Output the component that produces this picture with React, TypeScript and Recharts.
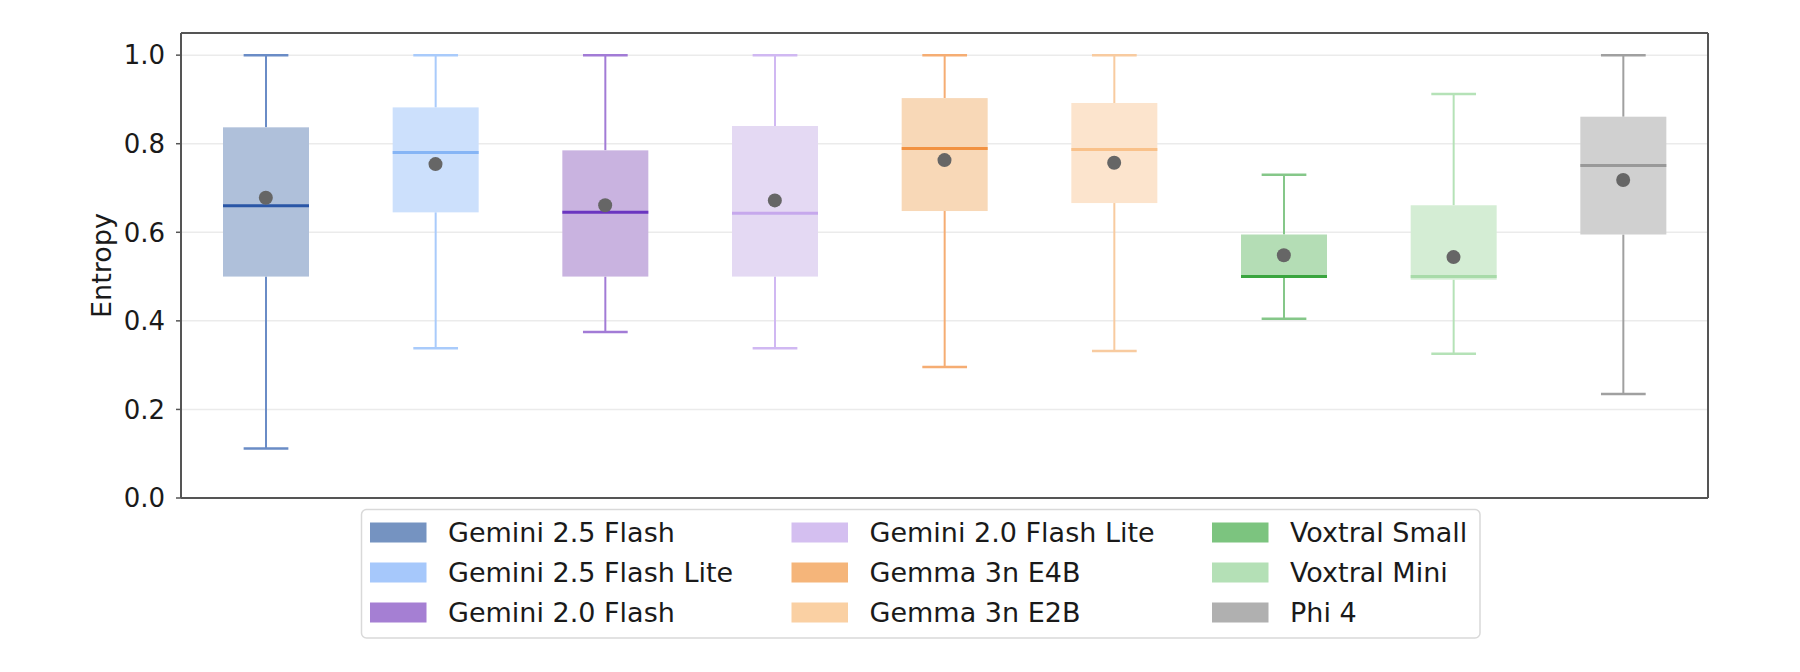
import React from 'react';
import { ComposedChart, Bar, Scatter, XAxis, YAxis, CartesianGrid } from 'recharts';

// ---- data ----
const models = [
  'Gemini 2.5 Flash',
  'Gemini 2.5 Flash Lite',
  'Gemini 2.0 Flash',
  'Gemini 2.0 Flash Lite',
  'Gemma 3n E4B',
  'Gemma 3n E2B',
  'Voxtral Small',
  'Voxtral Mini',
  'Phi 4',
];
const whiskerLow = [0.112, 0.338, 0.375, 0.338, 0.296, 0.332, 0.405, 0.326, 0.235];
const q1 = [0.5, 0.645, 0.5, 0.5, 0.648, 0.666, 0.499, 0.493, 0.595];
const median = [0.66, 0.78, 0.645, 0.643, 0.789, 0.787, 0.5, 0.5, 0.751];
const q3 = [0.837, 0.882, 0.785, 0.84, 0.903, 0.892, 0.595, 0.661, 0.861];
const whiskerHigh = [1.0, 1.0, 1.0, 1.0, 1.0, 1.0, 0.73, 0.912, 1.0];
const mean = [0.678, 0.754, 0.661, 0.672, 0.763, 0.757, 0.548, 0.544, 0.718];
const yTicks = [0, 0.2, 0.4, 0.6, 0.8, 1.0];

// ---- styles ----
const legendColors = ['#7593c1', '#a6c8fb', '#a57fd3', '#d4bff0', '#f5b57a', '#fad0a3', '#7cc47f', '#b4e0b6', '#b0b0b0'];
const boxFill = ['#afc0da', '#cce0fc', '#c9b3e0', '#e4d9f3', '#f8d8b7', '#fce4cd', '#b4ddb5', '#d4edd4', '#d0d0d0'];
const medianColors = ['#2a56a6', '#86b5f5', '#6a35c0', '#c6a8ec', '#f29242', '#f9c18a', '#3aa53f', '#a8dba9', '#999999'];
const whiskerColors = ['#6a8cc6', '#a9cbfb', '#a27bd6', '#d0b8f2', '#f5ad73', '#f8cba0', '#85c789', '#b5e2b7', '#a0a0a0'];

const FONT = '"DejaVu Sans", sans-serif';
const TEXT = '#1a1a1a';
const FRAME = '#555555';

const chartData = models.map((name, i) => ({
  name,
  idx: i,
  range: [whiskerLow[i], whiskerHigh[i]],
  low: whiskerLow[i],
  q1: q1[i],
  median: median[i],
  q3: q3[i],
  high: whiskerHigh[i],
  mean: mean[i],
}));

const BoxShape = (props: any) => {
  const { x, y, width, height, payload } = props;
  if (!payload) return null;
  const i = payload.idx;
  const top = Math.min(y, y + height);
  const bottom = Math.max(y, y + height);
  const k = (bottom - top) / (payload.high - payload.low);
  const toY = (v: number) => bottom - (v - payload.low) * k;
  const cx = x + width / 2;
  const capHalf = width * 0.26;
  const yQ1 = toY(payload.q1);
  const yQ3 = toY(payload.q3);
  const yMed = toY(payload.median);
  const wc = whiskerColors[i];
  return (
    <g>
      <line x1={cx} x2={cx} y1={top} y2={yQ3} stroke={wc} strokeWidth={2} />
      <line x1={cx} x2={cx} y1={yQ1} y2={bottom} stroke={wc} strokeWidth={2} />
      <line x1={cx - capHalf} x2={cx + capHalf} y1={top} y2={top} stroke={wc} strokeWidth={2.5} />
      <line x1={cx - capHalf} x2={cx + capHalf} y1={bottom} y2={bottom} stroke={wc} strokeWidth={2.5} />
      <rect x={x} y={yQ3} width={width} height={Math.max(yQ1 - yQ3, 0.5)} fill={boxFill[i]} />
      <line x1={x} x2={x + width} y1={yMed} y2={yMed} stroke={medianColors[i]} strokeWidth={3} />
    </g>
  );
};

const MeanDot = (props: any) => {
  const { cx, cy } = props;
  if (cx == null || cy == null) return null;
  return <circle cx={cx} cy={cy} r={7} fill="#666666" />;
};

const YLabel = (props: any) => {
  const vb = props.viewBox || { x: 81, y: 33, width: 100, height: 465 };
  const lx = vb.x + 30;
  const ly = vb.y + vb.height / 2;
  return (
    <text
      x={lx}
      y={ly}
      transform={`rotate(-90, ${lx}, ${ly})`}
      textAnchor="middle"
      fontFamily={FONT}
      fontSize={27}
      fill={TEXT}
    >
      Entropy
    </text>
  );
};

const legendColumns = [
  [0, 1, 2],
  [3, 4, 5],
  [6, 7, 8],
];
const legendColX = [370, 791.5, 1212];
const legendRowY = [522.5, 562.5, 602.5];

const LegendOverlay = () => (
  <svg
    width={1800}
    height={672}
    style={{ position: 'absolute', left: 0, top: 0, pointerEvents: 'none' }}
  >
    <rect x={361.5} y={509.5} width={1118.5} height={128.5} rx={5} ry={5} fill="#ffffff" stroke="#d9d9d9" strokeWidth={1.5} />
    {legendColumns.map((col, ci) =>
      col.map((mi, ri) => (
        <g key={mi}>
          <rect x={legendColX[ci]} y={legendRowY[ri]} width={56.5} height={20} fill={legendColors[mi]} />
          <text
            x={legendColX[ci] + 78}
            y={legendRowY[ri] + 19.5}
            fontFamily={FONT}
            fontSize={27}
            fill={TEXT}
          >
            {models[mi]}
          </text>
        </g>
      ))
    )}
  </svg>
);

export default function App() {
  return (
    <div style={{ position: 'absolute', left: 0, top: 0, width: 1800, height: 672, background: '#ffffff' }}>
      <ComposedChart
        width={1800}
        height={672}
        data={chartData}
        margin={{ top: 32, right: 91, bottom: 173, left: 81 }}
      >
        <CartesianGrid horizontal vertical={false} stroke="#ebebeb" strokeWidth={1.5} />
        <XAxis
          dataKey="name"
          type="category"
          height={1}
          tick={false}
          tickLine={false}
          axisLine={{ stroke: FRAME, strokeWidth: 2 }}
        />
        <XAxis
          xAxisId="top"
          dataKey="name"
          type="category"
          orientation="top"
          height={1}
          tick={false}
          tickLine={false}
          axisLine={{ stroke: FRAME, strokeWidth: 2 }}
        />
        <YAxis
          type="number"
          domain={[0, 1.05]}
          allowDataOverflow
          ticks={yTicks}
          interval={0}
          width={100}
          tickFormatter={(v: number) => v.toFixed(1)}
          tick={{ fontFamily: FONT, fontSize: 26, fill: TEXT }}
          tickSize={5}
          tickMargin={11}
          tickLine={{ stroke: FRAME, strokeWidth: 1.5 }}
          axisLine={{ stroke: FRAME, strokeWidth: 2 }}
          label={{ content: YLabel }}
        />
        <YAxis
          yAxisId="right"
          orientation="right"
          type="number"
          domain={[0, 1.05]}
          width={1}
          tick={false}
          tickLine={false}
          axisLine={{ stroke: FRAME, strokeWidth: 2 }}
        />
        <Bar dataKey="range" barSize={86} shape={BoxShape} isAnimationActive={false} />
        <Scatter dataKey="mean" shape={MeanDot} isAnimationActive={false} />
      </ComposedChart>
      <LegendOverlay />
    </div>
  );
}
